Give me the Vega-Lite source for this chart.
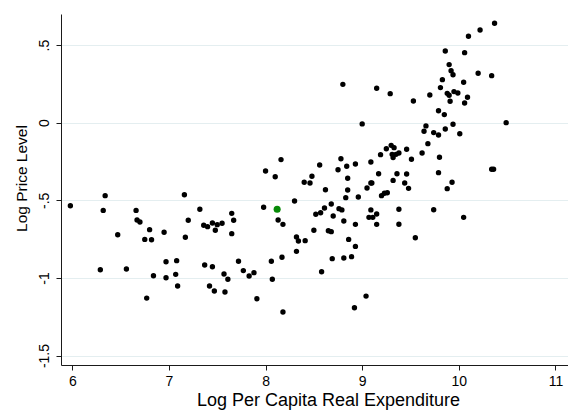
{
  "$schema": "https://vega.github.io/schema/vega-lite/v6.json",
  "width": 507,
  "height": 351,
  "autosize": "none",
  "padding": {"left": 61, "top": 14, "right": 0, "bottom": 46},
  "background": "white",
  "config": {
    "view": {"stroke": null},
    "font": "Liberation Sans",
    "axis": {
      "domainColor": "#1a1a1a",
      "domainWidth": 1,
      "tickColor": "#1a1a1a",
      "tickWidth": 1,
      "tickSize": 5,
      "labelColor": "#000000",
      "titleColor": "#000000",
      "titleFontWeight": "normal",
      "labelFont": "Liberation Sans",
      "titleFont": "Liberation Sans"
    }
  },
  "datasets": {
    "countries": [
      {"logExp": 5.98, "logPrice": -0.535},
      {"logExp": 6.34, "logPrice": -0.470},
      {"logExp": 6.32, "logPrice": -0.565},
      {"logExp": 6.29, "logPrice": -0.947},
      {"logExp": 6.47, "logPrice": -0.722},
      {"logExp": 6.56, "logPrice": -0.943},
      {"logExp": 6.66, "logPrice": -0.565},
      {"logExp": 6.67, "logPrice": -0.627},
      {"logExp": 6.70, "logPrice": -0.640},
      {"logExp": 6.80, "logPrice": -0.689},
      {"logExp": 6.75, "logPrice": -0.752},
      {"logExp": 6.82, "logPrice": -0.754},
      {"logExp": 6.77, "logPrice": -1.130},
      {"logExp": 6.84, "logPrice": -0.986},
      {"logExp": 6.95, "logPrice": -0.706},
      {"logExp": 6.97, "logPrice": -0.896},
      {"logExp": 6.97, "logPrice": -0.999},
      {"logExp": 7.08, "logPrice": -0.889},
      {"logExp": 7.07, "logPrice": -0.977},
      {"logExp": 7.09, "logPrice": -1.052},
      {"logExp": 7.16, "logPrice": -0.464},
      {"logExp": 7.20, "logPrice": -0.629},
      {"logExp": 7.17, "logPrice": -0.738},
      {"logExp": 7.32, "logPrice": -0.558},
      {"logExp": 7.36, "logPrice": -0.661},
      {"logExp": 7.40, "logPrice": -0.670},
      {"logExp": 7.45, "logPrice": -0.646},
      {"logExp": 7.50, "logPrice": -0.657},
      {"logExp": 7.48, "logPrice": -0.693},
      {"logExp": 7.37, "logPrice": -0.917},
      {"logExp": 7.45, "logPrice": -0.928},
      {"logExp": 7.42, "logPrice": -1.052},
      {"logExp": 7.47, "logPrice": -1.084},
      {"logExp": 7.65, "logPrice": -0.584},
      {"logExp": 7.67, "logPrice": -0.629},
      {"logExp": 7.65, "logPrice": -0.715},
      {"logExp": 7.55, "logPrice": -0.648},
      {"logExp": 7.57, "logPrice": -0.975},
      {"logExp": 7.61, "logPrice": -1.009},
      {"logExp": 7.58, "logPrice": -1.091},
      {"logExp": 7.72, "logPrice": -0.893},
      {"logExp": 7.77, "logPrice": -0.953},
      {"logExp": 7.83, "logPrice": -0.988},
      {"logExp": 7.88, "logPrice": -0.966},
      {"logExp": 7.91, "logPrice": -1.134},
      {"logExp": 7.98, "logPrice": -0.545},
      {"logExp": 8.13, "logPrice": -0.627},
      {"logExp": 8.18, "logPrice": -0.655},
      {"logExp": 8.30, "logPrice": -0.505},
      {"logExp": 8.06, "logPrice": -0.893},
      {"logExp": 8.17, "logPrice": -0.867},
      {"logExp": 8.07, "logPrice": -1.009},
      {"logExp": 8.18, "logPrice": -1.220},
      {"logExp": 8.32, "logPrice": -0.736},
      {"logExp": 8.34, "logPrice": -0.762},
      {"logExp": 8.41, "logPrice": -0.760},
      {"logExp": 8.32, "logPrice": -0.829},
      {"logExp": 8.50, "logPrice": -0.693},
      {"logExp": 8.58, "logPrice": -0.960},
      {"logExp": 8.52, "logPrice": -0.590},
      {"logExp": 8.57, "logPrice": -0.580},
      {"logExp": 8.61, "logPrice": -0.550},
      {"logExp": 8.68, "logPrice": -0.524},
      {"logExp": 8.70, "logPrice": -0.601},
      {"logExp": 8.65, "logPrice": -0.696},
      {"logExp": 8.68, "logPrice": -0.702},
      {"logExp": 8.76, "logPrice": -0.554},
      {"logExp": 8.79, "logPrice": -0.562},
      {"logExp": 8.81, "logPrice": -0.633},
      {"logExp": 8.86, "logPrice": -0.752},
      {"logExp": 8.93, "logPrice": -0.797},
      {"logExp": 8.69, "logPrice": -0.876},
      {"logExp": 8.81, "logPrice": -0.872},
      {"logExp": 8.89, "logPrice": -0.863},
      {"logExp": 9.04, "logPrice": -1.117},
      {"logExp": 8.92, "logPrice": -1.192},
      {"logExp": 8.93, "logPrice": -0.655},
      {"logExp": 9.09, "logPrice": -0.562},
      {"logExp": 9.07, "logPrice": -0.610},
      {"logExp": 9.11, "logPrice": -0.610},
      {"logExp": 9.15, "logPrice": -0.588},
      {"logExp": 9.15, "logPrice": -0.655},
      {"logExp": 8.80, "logPrice": 0.247},
      {"logExp": 9.15, "logPrice": 0.222},
      {"logExp": 9.29, "logPrice": 0.187},
      {"logExp": 9.53, "logPrice": 0.140},
      {"logExp": 9.70, "logPrice": 0.178},
      {"logExp": 9.00, "logPrice": -0.008},
      {"logExp": 9.66, "logPrice": -0.021},
      {"logExp": 9.64, "logPrice": -0.055},
      {"logExp": 9.68, "logPrice": -0.135},
      {"logExp": 9.25, "logPrice": -0.168},
      {"logExp": 9.30, "logPrice": -0.146},
      {"logExp": 9.33, "logPrice": -0.161},
      {"logExp": 9.46, "logPrice": -0.171},
      {"logExp": 9.38, "logPrice": -0.195},
      {"logExp": 9.31, "logPrice": -0.204},
      {"logExp": 9.35, "logPrice": -0.204},
      {"logExp": 9.32, "logPrice": -0.225},
      {"logExp": 9.19, "logPrice": -0.206},
      {"logExp": 9.62, "logPrice": -0.195},
      {"logExp": 9.51, "logPrice": -0.236},
      {"logExp": 9.09, "logPrice": -0.253},
      {"logExp": 8.93, "logPrice": -0.266},
      {"logExp": 8.78, "logPrice": -0.232},
      {"logExp": 8.84, "logPrice": -0.281},
      {"logExp": 8.75, "logPrice": -0.303},
      {"logExp": 8.56, "logPrice": -0.273},
      {"logExp": 8.16, "logPrice": -0.238},
      {"logExp": 8.00, "logPrice": -0.311},
      {"logExp": 8.10, "logPrice": -0.348},
      {"logExp": 8.48, "logPrice": -0.345},
      {"logExp": 8.40, "logPrice": -0.384},
      {"logExp": 8.46, "logPrice": -0.389},
      {"logExp": 8.85, "logPrice": -0.358},
      {"logExp": 8.62, "logPrice": -0.432},
      {"logExp": 8.85, "logPrice": -0.434},
      {"logExp": 8.83, "logPrice": -0.483},
      {"logExp": 8.96, "logPrice": -0.479},
      {"logExp": 9.17, "logPrice": -0.329},
      {"logExp": 9.36, "logPrice": -0.329},
      {"logExp": 9.46, "logPrice": -0.331},
      {"logExp": 9.32, "logPrice": -0.372},
      {"logExp": 9.44, "logPrice": -0.389},
      {"logExp": 9.48, "logPrice": -0.423},
      {"logExp": 9.05, "logPrice": -0.421},
      {"logExp": 9.09, "logPrice": -0.389},
      {"logExp": 9.10, "logPrice": -0.389},
      {"logExp": 9.20, "logPrice": -0.470},
      {"logExp": 9.23, "logPrice": -0.455},
      {"logExp": 9.26, "logPrice": -0.451},
      {"logExp": 9.38, "logPrice": -0.558},
      {"logExp": 10.37, "logPrice": 0.640},
      {"logExp": 10.22, "logPrice": 0.597},
      {"logExp": 10.10, "logPrice": 0.557},
      {"logExp": 9.86, "logPrice": 0.462},
      {"logExp": 10.06, "logPrice": 0.451},
      {"logExp": 9.90, "logPrice": 0.374},
      {"logExp": 9.92, "logPrice": 0.335},
      {"logExp": 9.94, "logPrice": 0.309},
      {"logExp": 10.20, "logPrice": 0.318},
      {"logExp": 10.34, "logPrice": 0.303},
      {"logExp": 9.83, "logPrice": 0.277},
      {"logExp": 10.05, "logPrice": 0.260},
      {"logExp": 9.81, "logPrice": 0.226},
      {"logExp": 9.88, "logPrice": 0.189},
      {"logExp": 9.90, "logPrice": 0.177},
      {"logExp": 9.95, "logPrice": 0.200},
      {"logExp": 9.99, "logPrice": 0.191},
      {"logExp": 10.09, "logPrice": 0.164},
      {"logExp": 9.91, "logPrice": 0.138},
      {"logExp": 10.06, "logPrice": 0.127},
      {"logExp": 9.79, "logPrice": 0.077},
      {"logExp": 9.85, "logPrice": 0.052},
      {"logExp": 10.49, "logPrice": 0.000},
      {"logExp": 9.94, "logPrice": -0.010},
      {"logExp": 9.86, "logPrice": -0.041},
      {"logExp": 10.01, "logPrice": -0.071},
      {"logExp": 9.74, "logPrice": -0.064},
      {"logExp": 9.79, "logPrice": -0.079},
      {"logExp": 9.80, "logPrice": -0.223},
      {"logExp": 9.79, "logPrice": -0.322},
      {"logExp": 10.34, "logPrice": -0.300},
      {"logExp": 10.36, "logPrice": -0.300},
      {"logExp": 9.93, "logPrice": -0.384},
      {"logExp": 9.88, "logPrice": -0.425},
      {"logExp": 9.38, "logPrice": -0.654},
      {"logExp": 9.55, "logPrice": -0.741},
      {"logExp": 9.74, "logPrice": -0.561},
      {"logExp": 10.05, "logPrice": -0.610}
    ],
    "highlighted": [
      {"logExp": 8.12, "logPrice": -0.558}
    ]
  },
  "layer": [
    {
      "data": {"name": "countries"},
      "mark": {"type": "circle", "size": 29, "color": "#000000", "opacity": 1},
      "encoding": {
        "x": {
          "field": "logExp",
          "type": "quantitative",
          "scale": {"domain": [5.883, 11.13], "nice": false, "zero": false},
          "axis": {
            "title": "Log Per Capita Real Expenditure",
            "values": [6, 7, 8, 9, 10, 11],
            "format": "d",
            "grid": false,
            "labelFontSize": 14,
            "labelPadding": 4,
            "titleFontSize": 18,
            "titlePadding": 3,
            "titleX": 267
          }
        },
        "y": {
          "field": "logPrice",
          "type": "quantitative",
          "scale": {"domain": [-1.561, 0.7], "nice": false, "zero": false},
          "axis": {
            "title": "Log Price Level",
            "values": [-1.5, -1, -0.5, 0, 0.5],
            "labelExpr": "replace(toString(datum.value), '0.', '.')",
            "grid": true,
            "gridColor": "#e4eef0",
            "gridWidth": 1.2,
            "labelAngle": -90,
            "labelAlign": "center",
            "labelBaseline": "bottom",
            "labelFontSize": 14,
            "labelPadding": 5,
            "titleFontSize": 15.5,
            "titlePadding": 8,
            "titleY": 164
          }
        }
      }
    },
    {
      "data": {"name": "highlighted"},
      "mark": {"type": "circle", "size": 50, "color": "#078a07", "opacity": 1},
      "encoding": {
        "x": {"field": "logExp", "type": "quantitative"},
        "y": {"field": "logPrice", "type": "quantitative"}
      }
    }
  ]
}
